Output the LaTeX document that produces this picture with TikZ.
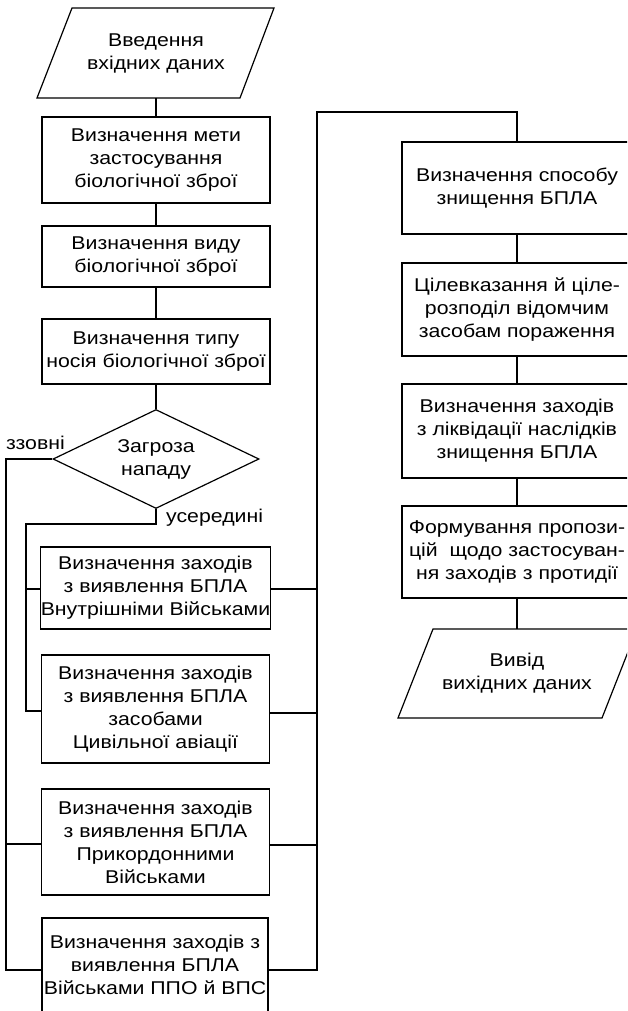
\documentclass[tikz,border=0pt]{standalone}
\usepackage{fontspec}
\setmainfont{Liberation Sans}[FakeStretch=1.15]
\usetikzlibrary{shapes.geometric}
\begin{document}
\begin{tikzpicture}[x=1pt,y=-1pt,
  every node/.style={font=\fontsize{18.5}{23}\selectfont, align=center, inner sep=0pt},
  box/.style={draw, line width=1.2pt, rectangle, minimum width=228pt},
  rbox/.style={draw, line width=1.2pt, rectangle, minimum width=230pt},
  dia/.style={draw, line width=1.2pt, diamond, minimum width=206pt, minimum height=99pt, aspect=2.08},
  conn/.style={line width=1.2pt},
  lbl/.style={font=\fontsize{18.5}{23}\selectfont}
]
\useasboundingbox (0,0) rectangle (627,1011);
\clip (0,0) rectangle (627,1011);

% input parallelogram
\node[minimum width=168pt, minimum height=90pt] (in) at (156,53) {Введення\\вхідних даних};
\draw[line width=1.2pt] (72,8) -- (274,8) -- (240,98) -- (37,98) -- cycle;

\node[box, minimum height=86pt] (b1) at (156,160) {Визначення мети\\застосування\\біологічної зброї};
\node[box, minimum height=61pt] (b2) at (156,256.5) {Визначення виду\\біологічної зброї};
\node[box, minimum height=65pt] (b3) at (156,351.5) {Визначення типу\\носія біологічної зброї};
\node[dia] (d) at (156,459) {};
\node at (d.center) {Загроза\\нападу};

\node[box, minimum height=82pt] (bA) at (155.5,588) {Визначення заходів\\з виявлення БПЛА\\Внутрішніми Військами};
\node[box, minimum height=108pt] (bB) at (155.5,709) {Визначення заходів\\з виявлення БПЛА\\засобами\\Цивільної авіації};
\node[box, minimum height=106pt] (bC) at (155.5,842) {Визначення заходів\\з виявлення БПЛА\\Прикордонними\\Військами};
\node[box, minimum width=226pt, minimum height=104pt] (bD) at (155,970) {};
\node at (155,965) {Визначення заходів з\\виявлення БПЛА\\Військами ППО й ВПС};

% right column
\node[rbox, minimum height=92pt] (r1) at (517,188) {Визначення способу\\знищення БПЛА};
\node[rbox, minimum height=93pt] (r2) at (517,309.5) {Цілевказання й ціле-\\розподіл відомчим\\засобам пораження};
\node[rbox, minimum height=94pt] (r3) at (517,431) {Визначення заходів\\з ліквідації наслідків\\знищення БПЛА};
\node[rbox, minimum height=92pt] (r4) at (517,552) {Формування пропози-\\цій\ \ щодо застосуван-\\ня заходів з протидії};
\node[minimum width=168pt, minimum height=89pt] (out) at (517,673.5) {Вивід\\вихідних даних};
\draw[line width=1.2pt] (433,629) -- (637,629) -- (602,718) -- (398,718) -- cycle;

% labels
\node[lbl, anchor=west] (lz) at (6,443) {ззовні};
\node[lbl, anchor=west] (lu) at (166,518) {усередині};

% coordinates
\coordinate (z1) at (6,459);
\coordinate (z2) at (6,970);
\coordinate (zc) at (6,844);
\coordinate (u1) at (156,524);
\coordinate (u2) at (26,524);
\coordinate (u3) at (26,711);
\coordinate (ua) at (26,589);
\coordinate (ra) at (317,589);
\coordinate (rb) at (317,713);
\coordinate (rc) at (317,845);
\coordinate (rd) at (317,970);
\coordinate (rt) at (317,112);
\coordinate (rt2) at (517,112);

% connectors
\draw[conn] (in.south) -- (b1.north);
\draw[conn] (b1.south) -- (b2.north);
\draw[conn] (b2.south) -- (b3.north);
\draw[conn] (b3.south) -- (d.north);
\draw[conn] (d.west) -- (z1) -- (z2) -- (bD.west |- z2);
\draw[conn] (zc) -- (bC.west |- zc);
\draw[conn] (d.south) -- (u1) -- (u2) -- (u3) -- (bB.west |- u3);
\draw[conn] (ua) -- (bA.west |- ua);
\draw[conn] (bA.east |- ra) -- (ra);
\draw[conn] (bB.east |- rb) -- (rb);
\draw[conn] (bC.east |- rc) -- (rc);
\draw[conn] (bD.east |- rd) -- (rd) -- (rt) -- (rt2) -- (r1.north);
\draw[conn] (r1.south) -- (r2.north);
\draw[conn] (r2.south) -- (r3.north);
\draw[conn] (r3.south) -- (r4.north);
\draw[conn] (r4.south) -- (out.north);
\end{tikzpicture}
\end{document}
